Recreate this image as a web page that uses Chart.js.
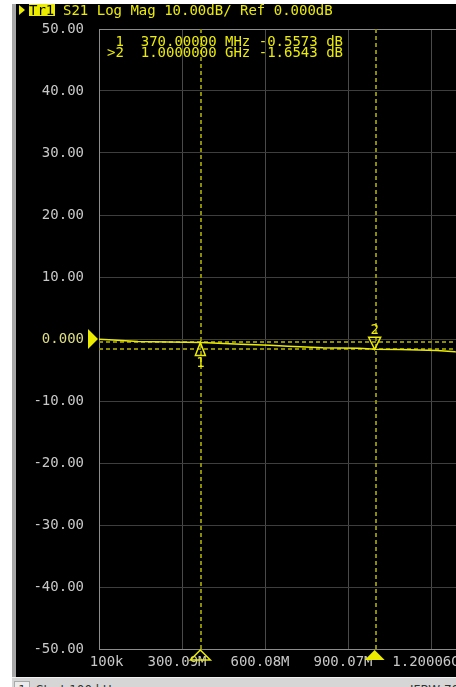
<!DOCTYPE html>
<html>
<head>
<meta charset="utf-8">
<script src="https://cdn.jsdelivr.net/npm/chart.js@4.4.1/dist/chart.umd.min.js"></script>
<style>
  html, body { margin: 0; padding: 0; background: #fff; width: 456px; height: 687px; overflow: hidden; }
  #leftEdge { position: absolute; left: 12px; top: 4px; width: 4px; height: 673px; background: #a8a8a8; }
  #screen { position: absolute; left: 16px; top: 4px; width: 440px; height: 673px; background: #000; overflow: hidden; }
  #screen canvas { position: absolute; left: 0; top: 0; }
  #status { position: absolute; left: 12px; top: 677px; width: 444px; height: 10px; background: #d6d6d6;
            border-top: 1px solid #f2f2f2; font: 12px "DejaVu Sans", sans-serif; color: #333; overflow: hidden; }
  #status span { position: absolute; top: 5px; white-space: nowrap; }
  #chanBox { left: 2px; width: 14px; height: 14px; background: #ececec; border: 1px solid #aaa; top: 3px !important; text-align: center; line-height: 16px; }
</style>
</head>
<body>
<div id="leftEdge"></div>
<div id="screen"><canvas id="vna" width="1000" height="673"></canvas></div>
<div id="status">
  <span id="chanBox">1</span>
  <span style="left:24px">Start 100 kHz</span>
  <span style="left:398px">IFBW 70 kHz</span>
</div>
<script>
// Trace S21 (MHz, dB)
const traceFreqMHz = [0.1, 36, 141, 253, 370, 513, 618, 683, 810, 940, 1000, 1088, 1222, 1287, 1330];
const traceDb = [-0.05, -0.13, -0.40, -0.50, -0.557, -0.84, -1.00, -1.16, -1.42, -1.50, -1.654, -1.70, -1.85, -2.06, -2.10];

// Markers
const markerNames = ['1', '2'];
const markerFreqMHz = [370, 1000];
const markerFreqText = ['370.00000 MHz', '1.0000000 GHz'];
const markerDb = [-0.5573, -1.6543];
const markerActive = [false, true];

// Axes
const xTickValues = [0.1, 300.09, 600.08, 900.07, 1200.06, 1500.05, 1800.04, 2100.03, 2400.02, 2700.01, 3000];
const xTickLabels = ['   100k', '300.09M', '600.08M', '900.07M', '1.20006G', '1.50005G', '1.80004G', '2.10003G', '2.40002G', '2.70001G', '3G'];
const yTickValues = [50, 40, 30, 20, 10, 0, -10, -20, -30, -40, -50];

const titleText = 'S21 Log Mag 10.00dB/ Ref 0.000dB';
const YEL = '#ecec00';
const MONO = '14px "DejaVu Sans Mono", monospace';

const vnaOverlay = {
  id: 'vnaOverlay',
  beforeDatasetsDraw(chart) {
    const { ctx, chartArea: a, scales: { x, y } } = chart;
    ctx.save();
    ctx.strokeStyle = '#8c8c00';
    ctx.lineWidth = 2;
    ctx.setLineDash([4, 3]);
    markerFreqMHz.forEach((f, i) => {
      const px = Math.round(x.getPixelForValue(f));
      const py = Math.round(y.getPixelForValue(markerDb[i]));
      ctx.beginPath(); ctx.moveTo(px, a.top); ctx.lineTo(px, a.bottom); ctx.stroke();
      ctx.beginPath(); ctx.moveTo(a.left, py); ctx.lineTo(a.right, py); ctx.stroke();
    });
    ctx.restore();
  },
  afterDatasetsDraw(chart) {
    const { ctx, chartArea: a, scales: { x, y } } = chart;
    ctx.save();
    ctx.setLineDash([]);
    ctx.strokeStyle = YEL;
    ctx.fillStyle = YEL;
    ctx.lineWidth = 1.5;
    ctx.font = MONO;
    ctx.textAlign = 'center';
    ctx.textBaseline = 'alphabetic';
    markerFreqMHz.forEach((f, i) => {
      const px = x.getPixelForValue(f) - 1;
      const py = y.getPixelForValue(markerDb[i]);
      ctx.beginPath();
      if (markerActive[i]) {
        ctx.moveTo(px, py); ctx.lineTo(px - 6, py - 12); ctx.lineTo(px + 6, py - 12); ctx.closePath();
        ctx.stroke();
        ctx.fillText(markerNames[i], px, py - 15);
      } else {
        ctx.moveTo(px, py); ctx.lineTo(px - 5, py + 13); ctx.lineTo(px + 5, py + 13); ctx.closePath();
        ctx.stroke();
        ctx.fillText(markerNames[i], px, py + 25);
      }
      // marker flag under the axis
      ctx.beginPath();
      ctx.moveTo(px, a.bottom + 1); ctx.lineTo(px - 10, a.bottom + 11); ctx.lineTo(px + 10, a.bottom + 11); ctx.closePath();
      if (markerActive[i]) ctx.fill(); else ctx.stroke();
    });
    // reference level arrow
    const y0 = y.getPixelForValue(0);
    ctx.beginPath();
    ctx.moveTo(a.left - 1, y0); ctx.lineTo(a.left - 11, y0 - 10); ctx.lineTo(a.left - 11, y0 + 10); ctx.closePath();
    ctx.fill();
    // marker readout
    ctx.textAlign = 'left';
    markerNames.forEach((n, i) => {
      const head = (markerActive[i] ? '>' : ' ') + n + '  ';
      const val = markerDb[i].toFixed(4) + ' dB';
      ctx.fillText(head + markerFreqText[i] + ' ' + val, 91, 42 + i * 11);
    });
    ctx.restore();
  },
  afterDraw(chart) {
    const { ctx } = chart;
    ctx.save();
    ctx.fillStyle = YEL;
    ctx.beginPath();
    ctx.moveTo(3, 1); ctx.lineTo(9, 6); ctx.lineTo(3, 11); ctx.closePath();
    ctx.fill();
    ctx.fillRect(13, 0, 26, 12);
    ctx.font = MONO;
    ctx.textBaseline = 'alphabetic';
    ctx.fillStyle = '#000';
    ctx.fillText('Tr1', 13, 11);
    ctx.fillStyle = YEL;
    ctx.fillText(titleText, 47, 11);
    ctx.restore();
  }
};

new Chart(document.getElementById('vna'), {
  type: 'line',
  data: {
    datasets: [{
      label: 'S21',
      data: traceFreqMHz.map((f, i) => ({ x: f, y: traceDb[i] })),
      borderColor: YEL,
      borderWidth: 1.5,
      pointRadius: 0,
      tension: 0
    }]
  },
  options: {
    responsive: false,
    animation: false,
    layout: { padding: { top: 25, right: 87, left: 0, bottom: 0 } },
    plugins: { legend: { display: false }, tooltip: { enabled: false } },
    scales: {
      x: {
        type: 'linear',
        min: 0.1,
        max: 3000,
        afterBuildTicks: s => { s.ticks = xTickValues.map(v => ({ value: v })); },
        afterFit: s => { s.height = 28; },
        grid: { color: c => (c.index === 0 ? '#8c8c8c' : '#4a4a4a'), drawTicks: false },
        border: { color: '#8c8c8c' },
        ticks: {
          color: '#c8c8c8',
          font: { family: '"DejaVu Sans Mono", monospace', size: 14 },
          padding: 5,
          labelOffset: -5,
          maxRotation: 0,
          autoSkip: false,
          callback: (v, i) => xTickLabels[i]
        }
      },
      y: {
        min: -50,
        max: 50,
        afterBuildTicks: s => { s.ticks = yTickValues.map(v => ({ value: v })); },
        afterFit: s => { s.width = 83; },
        grid: { color: c => (c.tick && c.tick.value === 50 ? '#8c8c8c' : '#3e3e3e'), drawTicks: false },
        border: { color: '#8c8c8c' },
        ticks: {
          color: c => (c.tick && c.tick.value === 0 ? '#dede80' : '#c8c8c8'),
          font: { family: '"DejaVu Sans Mono", monospace', size: 14 },
          padding: 15,
          callback: v => (v === 0 ? '0.000' : v.toFixed(2))
        }
      }
    }
  },
  plugins: [vnaOverlay]
});
</script>
</body>
</html>
